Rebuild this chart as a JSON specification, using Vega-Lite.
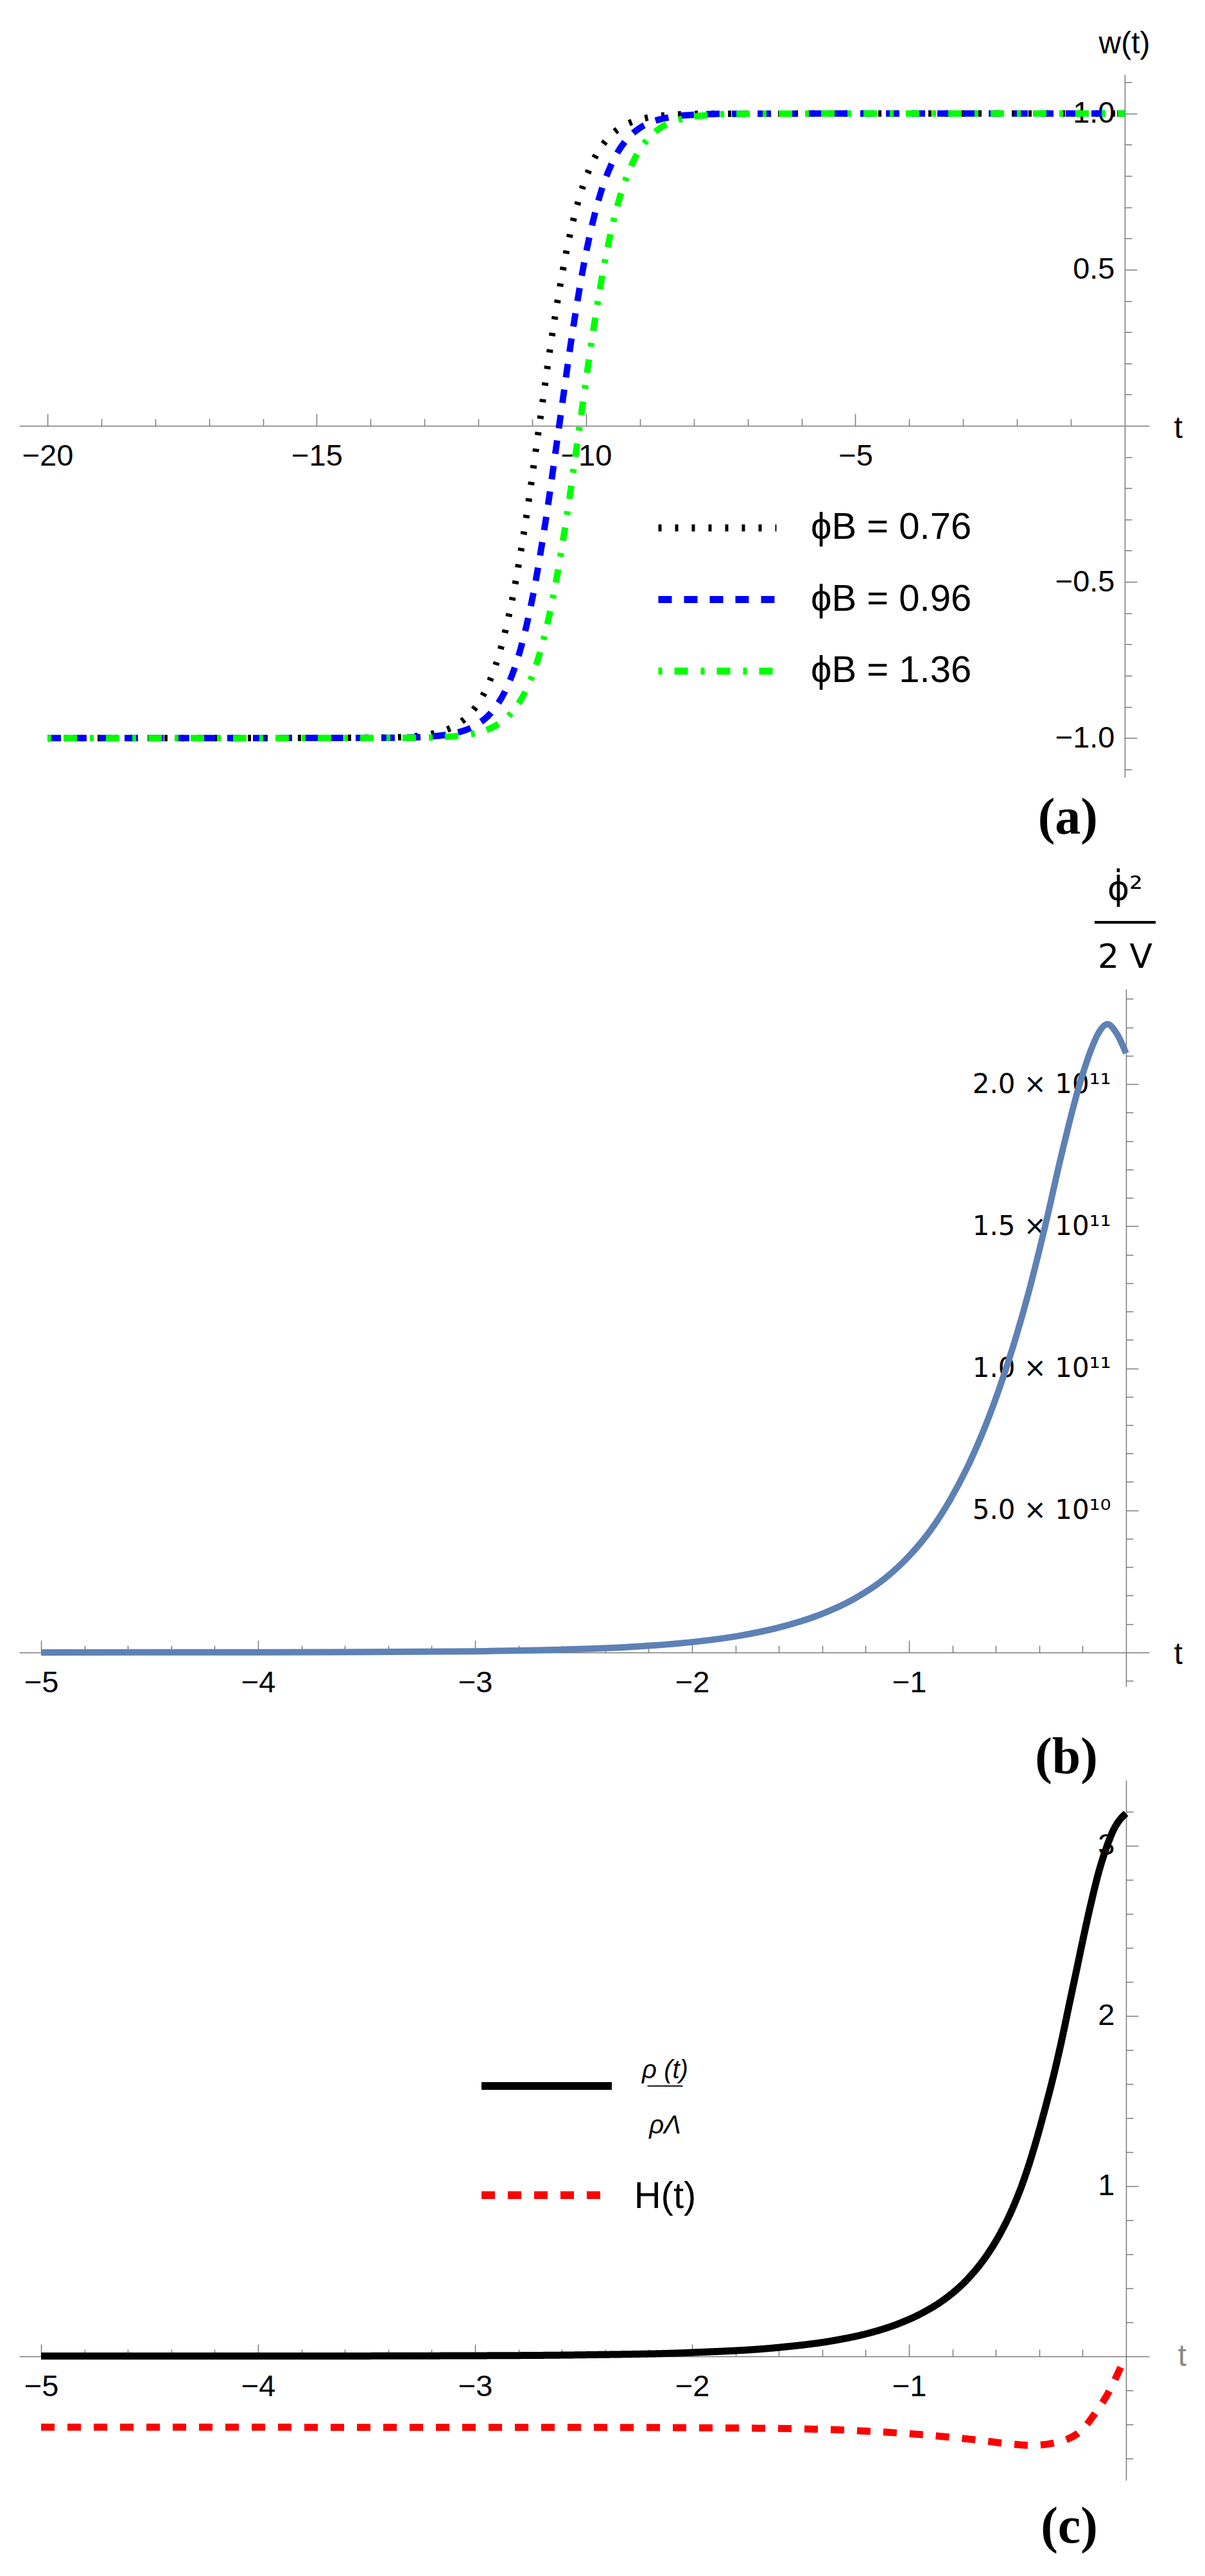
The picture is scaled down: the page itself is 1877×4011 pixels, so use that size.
{
"$schema": "https://vega.github.io/schema/vega-lite/v6.json",
"background": "white",
"padding": {"left": 30, "top": 44, "right": 10, "bottom": 10},
"bounds": "flush",
"spacing": 330,
"resolve": {"scale": {"color": "independent", "strokeDash": "independent"}, "legend": {"color": "independent", "strokeDash": "independent"}},
"config": {
  "view": {"stroke": null},
  "font": "Liberation Sans",
  "axis": {"grid": false, "domainColor": "#7a7a7a", "domainWidth": 1.5, "tickColor": "#7a7a7a", "tickWidth": 1.5, "labelColor": "black", "labelFont": "Liberation Sans", "labelFontSize": 47, "labelFlush": false, "labelOverlap": false, "labelBound": false, "titleFont": "Liberation Sans", "titleFontWeight": "normal", "titleColor": "black", "titleFontSize": 48, "zindex": 0, "labelLimit": 400},
  "legend": {"padding": 0, "labelFont": "Liberation Sans", "labelLimit": 600}
},
"vconcat": [
{
  "width": 1760, "height": 1094,
  "title": {"text": "(a)", "orient": "bottom", "anchor": "end", "frame": "group", "offset": 25, "dx": -80, "font": "Liberation Serif", "fontSize": 80, "fontWeight": "bold", "color": "black"},
  "data": {"values": [
    {"s":"ϕB = 0.76","t":-20,"w":-1},{"s":"ϕB = 0.76","t":-17,"w":-1},{"s":"ϕB = 0.76","t":-13.87,"w":-0.9989},{"s":"ϕB = 0.76","t":-13.37,"w":-0.9962},{"s":"ϕB = 0.76","t":-12.87,"w":-0.9866},{"s":"ϕB = 0.76","t":-12.62,"w":-0.9752},{"s":"ϕB = 0.76","t":-12.37,"w":-0.9541},{"s":"ϕB = 0.76","t":-12.12,"w":-0.9159},{"s":"ϕB = 0.76","t":-11.87,"w":-0.8483},{"s":"ϕB = 0.76","t":-11.62,"w":-0.7343},{"s":"ϕB = 0.76","t":-11.37,"w":-0.5546},{"s":"ϕB = 0.76","t":-11.12,"w":-0.3027},{"s":"ϕB = 0.76","t":-10.87,"w":0},{"s":"ϕB = 0.76","t":-10.62,"w":0.3027},{"s":"ϕB = 0.76","t":-10.37,"w":0.5546},{"s":"ϕB = 0.76","t":-10.12,"w":0.7343},{"s":"ϕB = 0.76","t":-9.87,"w":0.8483},{"s":"ϕB = 0.76","t":-9.62,"w":0.9159},{"s":"ϕB = 0.76","t":-9.37,"w":0.9541},{"s":"ϕB = 0.76","t":-9.12,"w":0.9752},{"s":"ϕB = 0.76","t":-8.87,"w":0.9866},{"s":"ϕB = 0.76","t":-8.37,"w":0.9962},{"s":"ϕB = 0.76","t":-7.87,"w":0.9989},{"s":"ϕB = 0.76","t":-5,"w":1},{"s":"ϕB = 0.76","t":0,"w":1},
    {"s":"ϕB = 0.96","t":-20,"w":-1},{"s":"ϕB = 0.96","t":-17,"w":-1},{"s":"ϕB = 0.96","t":-13.5,"w":-0.9989},{"s":"ϕB = 0.96","t":-13,"w":-0.9962},{"s":"ϕB = 0.96","t":-12.5,"w":-0.9866},{"s":"ϕB = 0.96","t":-12.25,"w":-0.9752},{"s":"ϕB = 0.96","t":-12,"w":-0.9541},{"s":"ϕB = 0.96","t":-11.75,"w":-0.9159},{"s":"ϕB = 0.96","t":-11.5,"w":-0.8483},{"s":"ϕB = 0.96","t":-11.25,"w":-0.7343},{"s":"ϕB = 0.96","t":-11,"w":-0.5546},{"s":"ϕB = 0.96","t":-10.75,"w":-0.3027},{"s":"ϕB = 0.96","t":-10.5,"w":0},{"s":"ϕB = 0.96","t":-10.25,"w":0.3027},{"s":"ϕB = 0.96","t":-10,"w":0.5546},{"s":"ϕB = 0.96","t":-9.75,"w":0.7343},{"s":"ϕB = 0.96","t":-9.5,"w":0.8483},{"s":"ϕB = 0.96","t":-9.25,"w":0.9159},{"s":"ϕB = 0.96","t":-9,"w":0.9541},{"s":"ϕB = 0.96","t":-8.75,"w":0.9752},{"s":"ϕB = 0.96","t":-8.5,"w":0.9866},{"s":"ϕB = 0.96","t":-8,"w":0.9962},{"s":"ϕB = 0.96","t":-7.5,"w":0.9989},{"s":"ϕB = 0.96","t":-5,"w":1},{"s":"ϕB = 0.96","t":0,"w":1},
    {"s":"ϕB = 1.36","t":-20,"w":-1},{"s":"ϕB = 1.36","t":-17,"w":-1},{"s":"ϕB = 1.36","t":-13.12,"w":-0.9989},{"s":"ϕB = 1.36","t":-12.62,"w":-0.9962},{"s":"ϕB = 1.36","t":-12.12,"w":-0.9866},{"s":"ϕB = 1.36","t":-11.87,"w":-0.9752},{"s":"ϕB = 1.36","t":-11.62,"w":-0.9541},{"s":"ϕB = 1.36","t":-11.37,"w":-0.9159},{"s":"ϕB = 1.36","t":-11.12,"w":-0.8483},{"s":"ϕB = 1.36","t":-10.87,"w":-0.7343},{"s":"ϕB = 1.36","t":-10.62,"w":-0.5546},{"s":"ϕB = 1.36","t":-10.37,"w":-0.3027},{"s":"ϕB = 1.36","t":-10.12,"w":0},{"s":"ϕB = 1.36","t":-9.87,"w":0.3027},{"s":"ϕB = 1.36","t":-9.62,"w":0.5546},{"s":"ϕB = 1.36","t":-9.37,"w":0.7343},{"s":"ϕB = 1.36","t":-9.12,"w":0.8483},{"s":"ϕB = 1.36","t":-8.87,"w":0.9159},{"s":"ϕB = 1.36","t":-8.62,"w":0.9541},{"s":"ϕB = 1.36","t":-8.37,"w":0.9752},{"s":"ϕB = 1.36","t":-8.12,"w":0.9866},{"s":"ϕB = 1.36","t":-7.62,"w":0.9962},{"s":"ϕB = 1.36","t":-7.12,"w":0.9989},{"s":"ϕB = 1.36","t":-5,"w":1},{"s":"ϕB = 1.36","t":0,"w":1}
  ]},
  "layer": [
    {"mark": {"type": "line", "strokeWidth": 10, "interpolate": "monotone"},
     "encoding": {
       "x": {"field": "t", "type": "quantitative", "scale": {"domain": [-20.524, 0.453], "nice": false, "zero": false},
             "axis": {"orient": "bottom", "offset": -547, "values": [-20,-15,-10,-5], "tickSize": -19, "labelPadding": 43, "labelBaseline": "top", "title": "t", "titleX": 1805, "titleY": 4, "titleAlign": "center", "titleBaseline": "middle"}},
       "y": {"field": "w", "type": "quantitative", "scale": {"domain": [-1.125, 1.125], "nice": false, "zero": false},
             "axis": {"orient": "left", "offset": -1722, "values": [-1,-0.5,0.5,1], "format": ".1f", "tickSize": -19, "labelPadding": 35, "labelAlign": "right", "labelBaseline": "middle", "title": "w(t)", "titleX": -1, "titleY": -48, "titleAngle": 0, "titleAlign": "center", "titleBaseline": "middle"}},
       "color": {"field": "s", "type": "nominal", "scale": {"domain": ["ϕB = 0.76","ϕB = 0.96","ϕB = 1.36"], "range": ["#000000","#0000ff","#00ff00"]},
             "legend": {"title": null, "orient": "none", "legendX": 990, "legendY": 666, "direction": "vertical", "symbolType": "stroke", "symbolSize": 33856, "symbolStrokeWidth": 11, "clipHeight": 80, "rowPadding": 31.5, "labelOffset": 48, "labelFontSize": 58, "labelColor": "black", "labelLimit": 600, "padding": 0}},
       "strokeDash": {"field": "s", "type": "nominal", "scale": {"domain": ["ϕB = 0.76","ϕB = 0.96","ϕB = 1.36"], "range": [[5,21],[21,19],[6,19,21,20]]},
             "legend": {"title": null, "orient": "none", "legendX": 990, "legendY": 666, "direction": "vertical", "symbolType": "stroke", "symbolSize": 33856, "symbolStrokeWidth": 11, "clipHeight": 80, "rowPadding": 31.5, "labelOffset": 48, "labelFontSize": 58, "labelColor": "black", "labelLimit": 600, "padding": 0}}
     }},
    {"mark": {"type": "point", "opacity": 0},
     "encoding": {
       "x": {"field": "t", "type": "quantitative", "scale": {"domain": [-20.524, 0.453], "nice": false, "zero": false},
             "axis": {"orient": "bottom", "offset": -547, "values": [-19,-18,-17,-16,-14,-13,-12,-11,-9,-8,-7,-6,-4,-3,-2,-1], "tickSize": -11, "labels": false, "domain": false, "title": null}},
       "y": {"field": "w", "type": "quantitative", "scale": {"domain": [-1.125, 1.125], "nice": false, "zero": false},
             "axis": {"orient": "left", "offset": -1722, "values": [-1.1,-0.9,-0.8,-0.7,-0.6,-0.4,-0.3,-0.2,-0.1,0.1,0.2,0.3,0.4,0.6,0.7,0.8,0.9,1.1], "tickSize": -11, "labels": false, "domain": false, "title": null}}
     }}
  ],
  "resolve": {"axis": {"x": "independent", "y": "independent"}}
},
{
  "spacing": 146,
  "bounds": "flush",
  "resolve": {"scale": {"color": "independent", "strokeDash": "independent"}, "legend": {"color": "independent", "strokeDash": "independent"}},
  "vconcat": [
  {
    "width": 1760, "height": 1086,
    "title": {"text": "(b)", "orient": "bottom", "anchor": "end", "frame": "group", "offset": 55, "dx": -80, "font": "Liberation Serif", "fontSize": 80, "fontWeight": "bold", "color": "black"},
    "data": {"values": [
      {"t":-5,"v":5e6},{"t":-4.5,"v":1.5e7},{"t":-4,"v":4.5e7},{"t":-3.5,"v":1.34e8},{"t":-3,"v":4.02e8},{"t":-2.75,"v":6.97e8},{"t":-2.5,"v":1.21e9},{"t":-2.23,"v":2.19e9},{"t":-2,"v":3.63e9},{"t":-1.78,"v":5.89e9},{"t":-1.6,"v":8.75e9},{"t":-1.41,"v":1.33e10},{"t":-1.26,"v":1.855e10},{"t":-1.11,"v":2.61e10},{"t":-1,"v":3.39e10},{"t":-0.9,"v":4.31e10},{"t":-0.81,"v":5.38e10},{"t":-0.72,"v":6.7e10},{"t":-0.643,"v":8.07e10},{"t":-0.567,"v":9.67e10},{"t":-0.522,"v":1.073e11},{"t":-0.477,"v":1.189e11},{"t":-0.45,"v":1.264e11},{"t":-0.373,"v":1.5e11},{"t":-0.299,"v":1.747e11},{"t":-0.214,"v":2.0e11},{"t":-0.16,"v":2.124e11},{"t":-0.13,"v":2.176e11},{"t":-0.086,"v":2.211e11},{"t":-0.041,"v":2.176e11},{"t":0,"v":2.109e11}
    ]},
    "layer": [
      {"mark": {"type": "line", "strokeWidth": 10, "color": "#5e81b5", "interpolate": "monotone"},
       "encoding": {
         "x": {"field": "t", "type": "quantitative", "scale": {"domain": [-5.1006, 0.1065], "nice": false, "zero": false},
               "axis": {"orient": "bottom", "offset": -53, "values": [-5,-4,-3,-2,-1], "tickSize": -19, "labelPadding": 43, "labelBaseline": "top", "title": "t", "titleX": 1805, "titleY": 3, "titleAlign": "center", "titleBaseline": "middle"}},
         "y": {"field": "v", "type": "quantitative", "scale": {"domain": [-1.2e10, 2.335e11], "nice": false, "zero": false},
               "axis": {"orient": "left", "offset": -1724, "values": [5e10, 1e11, 1.5e11, 2e11], "labelExpr": "datum.value == 5e10 ? '5.0 × 10¹⁰' : (datum.value == 1e11 ? '1.0 × 10¹¹' : (datum.value == 1.5e11 ? '1.5 × 10¹¹' : '2.0 × 10¹¹'))", "labelFont": "DejaVu Sans", "labelFontSize": 42, "tickSize": -19, "labelPadding": 43, "labelAlign": "right", "labelBaseline": "middle", "title": ["ϕ̇²", "───", "2 V"], "titleFont": "DejaVu Sans", "titleFontSize": 52, "titleLineHeight": 53, "titleX": -2, "titleY": -140, "titleAngle": 0, "titleAlign": "center", "titleBaseline": "alphabetic"}}
       }},
      {"mark": {"type": "point", "opacity": 0},
       "encoding": {
         "x": {"field": "t", "type": "quantitative", "scale": {"domain": [-5.1006, 0.1065], "nice": false, "zero": false},
               "axis": {"orient": "bottom", "offset": -53, "values": [-4.8,-4.6,-4.4,-4.2,-3.8,-3.6,-3.4,-3.2,-2.8,-2.6,-2.4,-2.2,-1.8,-1.6,-1.4,-1.2,-0.8,-0.6,-0.4,-0.2], "tickSize": -11, "labels": false, "domain": false, "title": null}},
         "y": {"field": "v", "type": "quantitative", "scale": {"domain": [-1.2e10, 2.335e11], "nice": false, "zero": false},
               "axis": {"orient": "left", "offset": -1724, "values": [-1e10,1e10,2e10,3e10,4e10,6e10,7e10,8e10,9e10,1.1e11,1.2e11,1.3e11,1.4e11,1.6e11,1.7e11,1.8e11,1.9e11,2.1e11,2.2e11,2.3e11], "tickSize": -11, "labels": false, "domain": false, "title": null}}
       }}
    ],
    "resolve": {"axis": {"x": "independent", "y": "independent"}}
  },
  {
    "width": 1760, "height": 1090,
    "title": {"text": "(c)", "orient": "bottom", "anchor": "end", "frame": "group", "offset": 34, "dx": -80, "font": "Liberation Serif", "fontSize": 80, "fontWeight": "bold", "color": "black"},
    "data": {"values": [
      {"s":"rho","t":-5,"v":0.00004},{"s":"rho","t":-4,"v":0.0003},{"s":"rho","t":-3,"v":0.0026},{"s":"rho","t":-2.5,"v":0.0074},{"s":"rho","t":-2,"v":0.021},{"s":"rho","t":-1.6,"v":0.051},{"s":"rho","t":-1.35,"v":0.091},{"s":"rho","t":-1.18,"v":0.137},{"s":"rho","t":-1.05,"v":0.19},{"s":"rho","t":-0.94,"v":0.253},{"s":"rho","t":-0.84,"v":0.331},{"s":"rho","t":-0.74,"v":0.44},{"s":"rho","t":-0.67,"v":0.543},{"s":"rho","t":-0.62,"v":0.634},{"s":"rho","t":-0.57,"v":0.744},{"s":"rho","t":-0.52,"v":0.877},{"s":"rho","t":-0.47,"v":1.04},{"s":"rho","t":-0.42,"v":1.24},{"s":"rho","t":-0.37,"v":1.47},{"s":"rho","t":-0.33,"v":1.67},{"s":"rho","t":-0.296,"v":1.86},{"s":"rho","t":-0.263,"v":2.06},{"s":"rho","t":-0.228,"v":2.27},{"s":"rho","t":-0.195,"v":2.47},{"s":"rho","t":-0.16,"v":2.67},{"s":"rho","t":-0.127,"v":2.84},{"s":"rho","t":-0.09,"v":2.99},{"s":"rho","t":-0.059,"v":3.09},{"s":"rho","t":-0.024,"v":3.16},{"s":"rho","t":0,"v":3.19},
      {"s":"H","t":-5,"v":-0.418},{"s":"H","t":-4,"v":-0.418},{"s":"H","t":-3,"v":-0.419},{"s":"H","t":-2.46,"v":-0.419},{"s":"H","t":-1.86,"v":-0.422},{"s":"H","t":-1.385,"v":-0.431},{"s":"H","t":-1.148,"v":-0.444},{"s":"H","t":-0.91,"v":-0.465},{"s":"H","t":-0.672,"v":-0.495},{"s":"H","t":-0.545,"v":-0.515},{"s":"H","t":-0.435,"v":-0.525},{"s":"H","t":-0.324,"v":-0.508},{"s":"H","t":-0.205,"v":-0.436},{"s":"H","t":-0.137,"v":-0.326},{"s":"H","t":-0.078,"v":-0.208},{"s":"H","t":-0.017,"v":-0.045},{"s":"H","t":0,"v":0}
    ]},
    "layer": [
      {"mark": {"type": "line", "strokeWidth": 11, "interpolate": "monotone"},
       "encoding": {
         "x": {"field": "t", "type": "quantitative", "scale": {"domain": [-5.1006, 0.1065], "nice": false, "zero": false},
               "axis": {"orient": "bottom", "offset": -193, "values": [-5,-4,-3,-2,-1], "tickSize": -19, "labelPadding": 43, "labelBaseline": "top", "title": "t", "titleColor": "#888888", "titleX": 1811, "titleY": 0, "titleAlign": "center", "titleBaseline": "middle"}},
         "y": {"field": "v", "type": "quantitative", "scale": {"domain": [-0.73, 3.385], "nice": false, "zero": false},
               "axis": {"orient": "left", "offset": -1724, "values": [1, 2, 3], "tickSize": -19, "labelPadding": 37, "labelAlign": "right", "labelBaseline": "middle", "title": null}},
         "color": {"field": "s", "type": "nominal", "scale": {"domain": ["rho","H"], "range": ["#000000","#ff0000"]},
               "legend": {"title": null, "orient": "none", "legendX": 714, "legendY": 391, "direction": "vertical", "symbolType": "stroke", "symbolSize": 41209, "symbolStrokeWidth": 12, "clipHeight": 170, "rowPadding": -16, "labelOffset": 77, "labelAlign": "center", "labelFontSize": 58, "labelColor": "black", "labelLimit": 600, "padding": 0,
                 "encode": {"labels": {"update": {"text": {"signal": "datum.value === 'rho' ? ['ρ (t)', '‾‾‾‾', 'ρΛ'] : 'H(t)'"}, "fontSize": {"signal": "datum.value === 'rho' ? 40 : 58"}, "fontStyle": {"signal": "datum.value === 'rho' ? 'italic' : 'normal'"}, "baseline": {"value": "alphabetic"}, "dy": {"signal": "datum.value === 'rho' ? -12 : 20"}, "lineHeight": {"value": 43}}}}}},
         "strokeDash": {"field": "s", "type": "nominal", "scale": {"domain": ["rho","H"], "range": [[1,0],[21,20]]},
               "legend": {"title": null, "orient": "none", "legendX": 714, "legendY": 391, "direction": "vertical", "symbolType": "stroke", "symbolSize": 41209, "symbolStrokeWidth": 12, "clipHeight": 170, "rowPadding": -16, "labelOffset": 77, "labelAlign": "center", "labelFontSize": 58, "labelColor": "black", "labelLimit": 600, "padding": 0,
                 "encode": {"labels": {"update": {"text": {"signal": "datum.value === 'rho' ? ['ρ (t)', '‾‾‾‾', 'ρΛ'] : 'H(t)'"}, "fontSize": {"signal": "datum.value === 'rho' ? 40 : 58"}, "fontStyle": {"signal": "datum.value === 'rho' ? 'italic' : 'normal'"}, "baseline": {"value": "alphabetic"}, "dy": {"signal": "datum.value === 'rho' ? -12 : 20"}, "lineHeight": {"value": 43}}}}}}
       }},
      {"mark": {"type": "point", "opacity": 0},
       "encoding": {
         "x": {"field": "t", "type": "quantitative", "scale": {"domain": [-5.1006, 0.1065], "nice": false, "zero": false},
               "axis": {"orient": "bottom", "offset": -193, "values": [-4.8,-4.6,-4.4,-4.2,-3.8,-3.6,-3.4,-3.2,-2.8,-2.6,-2.4,-2.2,-1.8,-1.6,-1.4,-1.2,-0.8,-0.6,-0.4,-0.2], "tickSize": -11, "labels": false, "domain": false, "title": null}},
         "y": {"field": "v", "type": "quantitative", "scale": {"domain": [-0.73, 3.385], "nice": false, "zero": false},
               "axis": {"orient": "left", "offset": -1724, "values": [-0.6,-0.4,-0.2,0.2,0.4,0.6,0.8,1.2,1.4,1.6,1.8,2.2,2.4,2.6,2.8,3.2], "tickSize": -11, "labels": false, "domain": false, "title": null}}
       }}
    ],
    "resolve": {"axis": {"x": "independent", "y": "independent"}}
  }
  ]
}
]
}
